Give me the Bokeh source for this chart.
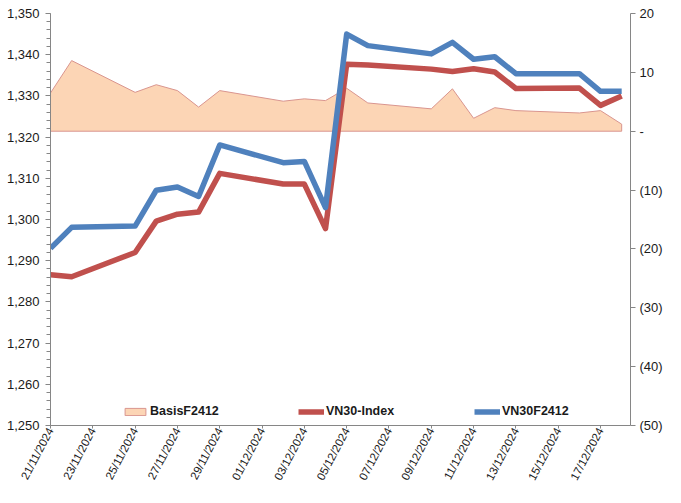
import math
from datetime import datetime
import pandas as pd
from bokeh.plotting import figure
from bokeh.models import (Range1d, LinearAxis, SingleIntervalTicker, FixedTicker,
                          DatetimeTickFormatter, NumeralTickFormatter, CustomJSTickFormatter,
                          Legend, LegendItem, ColumnDataSource)
from bokeh.embed import file_html
from bokeh.resources import INLINE

# ---- data ----
dates = ["21/11/2024", "22/11/2024", "25/11/2024", "26/11/2024", "27/11/2024",
         "28/11/2024", "29/11/2024", "02/12/2024", "03/12/2024", "04/12/2024",
         "05/12/2024", "06/12/2024", "09/12/2024", "10/12/2024", "11/12/2024",
         "12/12/2024", "13/12/2024", "16/12/2024", "17/12/2024", "18/12/2024"]
vn30f2412 = [1293.0, 1298.1, 1298.4, 1307.1, 1307.9, 1305.6, 1318.1, 1313.8, 1314.1, 1302.9,
             1345.0, 1342.2, 1340.2, 1343.0, 1338.9, 1339.5, 1335.4, 1335.4, 1331.1, 1331.1]
vn30_index = [1286.6, 1286.1, 1292.0, 1299.6, 1301.3, 1301.8, 1311.2, 1308.6, 1308.6, 1297.8,
              1337.7, 1337.5, 1336.5, 1335.9, 1336.6, 1335.8, 1331.8, 1331.9, 1327.7, 1330.0]
basis_f2412 = [6.5, 12.0, 6.6, 7.9, 6.9, 4.1, 6.9, 5.1, 5.5, 5.2,
               7.3, 4.8, 3.8, 7.2, 2.2, 4.0, 3.5, 3.1, 3.5, 1.2]
series_names = ["BasisF2412", "VN30-Index", "VN30F2412"]
tick_start = "21/11/2024"
tick_end = "17/12/2024"

x = pd.to_datetime(dates, format="%d/%m/%Y")
FONT = "Liberation Sans"
TXT = "#1a1a1a"
AX = "#868686"

p = figure(width=665, height=487, x_axis_type="datetime", output_backend="svg",
           toolbar_location=None,
           x_range=Range1d(start=datetime(2024, 11, 21), end=datetime(2024, 12, 18, 10)),
           y_range=Range1d(1250, 1350),
           min_border_left=50, min_border_right=30, min_border_top=13, min_border_bottom=55)
p.outline_line_color = None
p.xgrid.visible = False
p.ygrid.visible = False
p.background_fill_color = "white"

p.extra_y_ranges = {"basis": Range1d(-50, 20)}

# basis area (patch closed to the zero line)
px = list(x) + [x[-1], x[0]]
py = basis_f2412 + [0, 0]
r_basis = p.patch(px, py, y_range_name="basis", fill_color="#FCD5B5",
                  line_color="#D9958F", line_width=1)

src = ColumnDataSource(dict(x=x, f=vn30f2412, i=vn30_index))
r_idx = p.line("x", "i", source=src, line_color="#C0504D", line_width=5.5, line_join="round")
r_fut = p.line("x", "f", source=src, line_color="#4F81BD", line_width=5.5, line_join="round")

# left axis
ya = p.yaxis[0]
ya.ticker = SingleIntervalTicker(interval=10, num_minor_ticks=5)
ya.formatter = NumeralTickFormatter(format="0,0")

# right axis
ra = LinearAxis(y_range_name="basis",
                ticker=SingleIntervalTicker(interval=10, num_minor_ticks=0),
                formatter=CustomJSTickFormatter(code="""
                    if (tick == 0) return '-';
                    if (tick < 0) return '(' + Math.abs(tick) + ')';
                    return '' + tick;"""))
p.add_layout(ra, "right")

# x axis
ticks = pd.date_range(pd.to_datetime(tick_start, format="%d/%m/%Y"),
                      pd.to_datetime(tick_end, format="%d/%m/%Y"), freq="2D")
xa = p.xaxis[0]
xa.ticker = FixedTicker(ticks=[t.value / 1e6 for t in ticks])
fmt = "%d/%m/%Y"
xa.formatter = DatetimeTickFormatter(days=fmt, months=fmt, years=fmt, hours=fmt,
                                     hourmin=fmt, minutes=fmt, minsec=fmt, seconds=fmt)
xa.major_label_orientation = math.radians(62)

for ax in [ya, ra, xa]:
    ax.axis_line_color = AX
    ax.major_tick_line_color = AX
    ax.minor_tick_line_color = AX
    ax.major_tick_in = 0
    ax.major_tick_out = 5
    ax.minor_tick_in = 0
    ax.minor_tick_out = 4
    ax.major_label_text_font = FONT
    ax.major_label_text_color = TXT
    ax.major_label_text_font_size = "13px"
    ax.major_label_standoff = 6
ra.minor_tick_line_color = None
xa.minor_tick_line_color = None
xa.major_tick_out = 3
xa.major_label_text_font_size = "11.5px"
xa.major_label_standoff = 0
ra.major_label_standoff = 4

legend = Legend(items=[LegendItem(label=series_names[0], renderers=[r_basis]),
                       LegendItem(label=series_names[1], renderers=[r_idx]),
                       LegendItem(label=series_names[2], renderers=[r_fut])],
                orientation="horizontal", location=(72, 7),
                glyph_width=26, glyph_height=9, label_standoff=2,
                label_width=140, spacing=8, padding=0, margin=0,
                border_line_color=None, background_fill_alpha=0,
                label_text_font=FONT, label_text_font_style="bold",
                label_text_font_size="12.5px", label_text_color=TXT)
p.add_layout(legend)

open("out.html", "w").write(file_html(p, INLINE))
